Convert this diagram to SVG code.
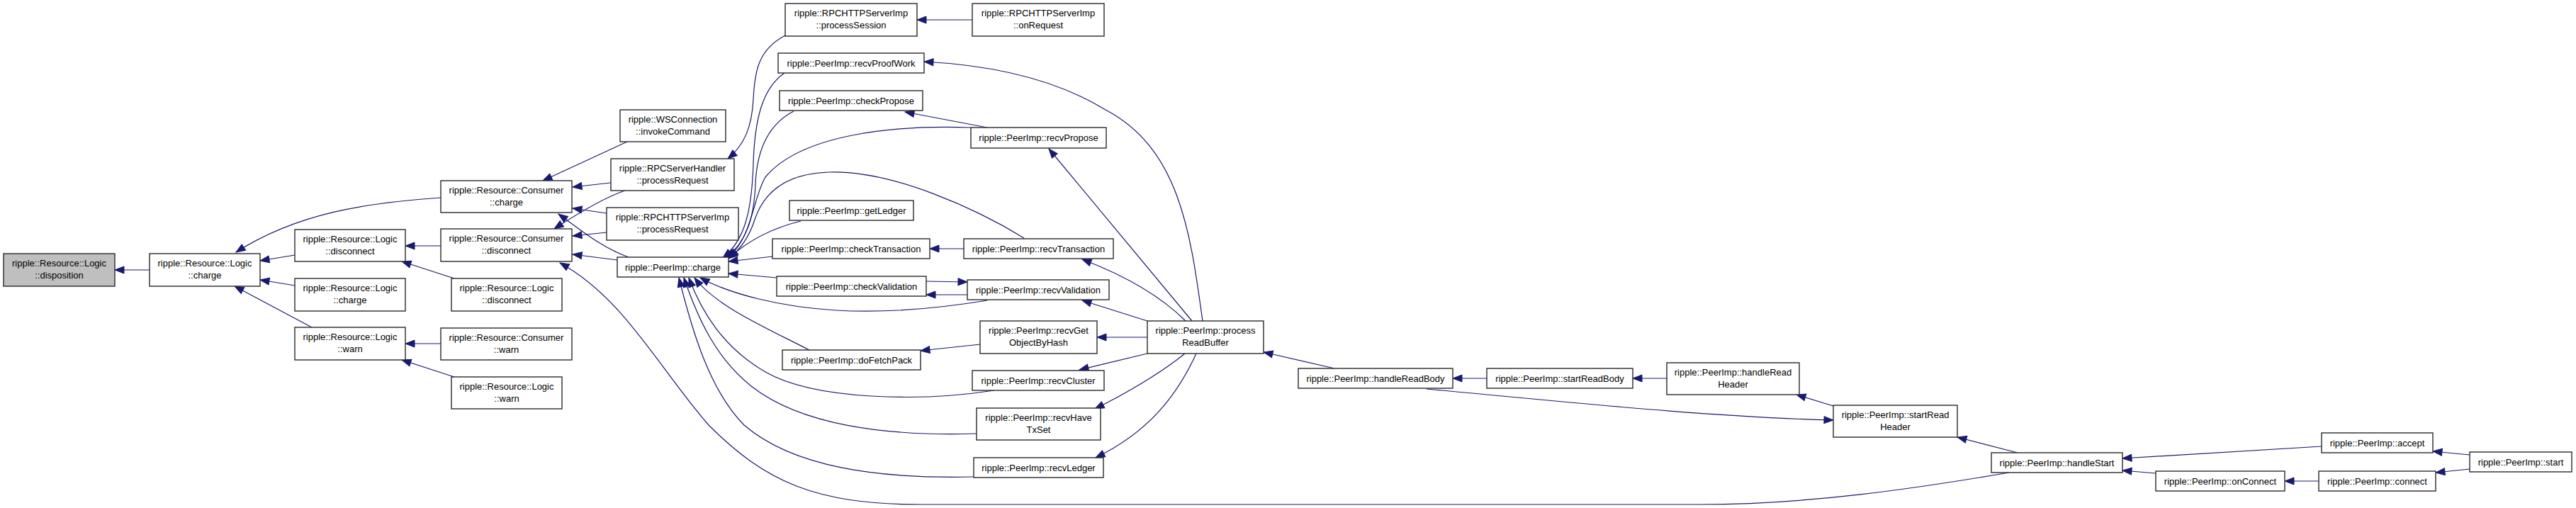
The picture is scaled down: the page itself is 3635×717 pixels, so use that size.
<svg xmlns="http://www.w3.org/2000/svg" width="3635" height="717" viewBox="0 0 3635 717">
<style>
.n rect{fill:#fff;stroke:#2a2a2a;stroke-width:1.4}
.n.sel rect{fill:#bfbfbf}
.n text{font-family:"Liberation Sans",Arial,sans-serif;font-size:13px;fill:#000;text-anchor:middle}
#edges path{fill:none;stroke:#191970;stroke-width:1.2;marker-end:url(#ah)}
</style>
<defs>
<marker id="ah" markerUnits="userSpaceOnUse" markerWidth="14" markerHeight="12" refX="13" refY="5.5" orient="auto" overflow="visible">
<path d="M0,0.5 L13,5.5 L0,10.5 z" fill="#191970" stroke="#191970" stroke-width="1"/>
</marker>
</defs>
<rect width="3635" height="717" fill="#fff"/>
<g id="edges">
<path d="M211,381 L162,381"/>
<path d="M622,279 C520,286 420,300 333,356"/>
<path d="M416,360 L367,368"/>
<path d="M416,403 L367,395"/>
<path d="M440,462 L331,404"/>
<path d="M622,347 L572,347"/>
<path d="M641,393 L567,369"/>
<path d="M622,485 L572,485"/>
<path d="M641,532 L567,508"/>
<path d="M885,200 L766,255"/>
<path d="M862,258 L808,264"/>
<path d="M856,301 L808,294"/>
<path d="M887,363 C850,350 820,325 788,302"/>
<path d="M882,269 C855,278 825,295 782,323"/>
<path d="M856,328 L808,333"/>
<path d="M871,367 L808,359"/>
<path d="M2835,667 C2700,690 2550,712 2400,712 L1300,712 C1150,712 1080,680 1000,600 C930,520 880,420 790,371"/>
<path d="M1108,50 C1070,70 1065,100 1063,140 C1061,180 1050,205 1027,224"/>
<path d="M1372,28 L1294,28"/>
<path d="M1107,103 C1075,125 1065,170 1063,230 C1061,300 1050,340 1020,364"/>
<path d="M1120,157 C1085,175 1068,210 1066,260 C1064,310 1052,343 1024,364"/>
<path d="M1370,180 C1260,176 1130,190 1080,250 C1062,280 1062,335 1027,364"/>
<path d="M1445,336 C1380,296 1260,240 1170,243 C1100,245 1075,280 1065,310 C1057,335 1045,352 1028,365"/>
<path d="M1130,312 C1090,322 1055,340 1029,364"/>
<path d="M1090,362 L1028,369"/>
<path d="M1096,392 L1028,386"/>
<path d="M1393,424 C1320,436 1250,442 1180,438 C1100,433 1030,415 988,392"/>
<path d="M1142,494 C1080,462 1010,432 980,392"/>
<path d="M1403,551 C1300,567 1150,565 1080,525 C1020,490 990,440 972,392"/>
<path d="M1378,612 C1250,616 1130,600 1060,545 C1010,505 985,450 965,392"/>
<path d="M1374,673 C1240,676 1120,660 1050,600 C1000,550 975,460 958,392"/>
<path d="M1697,453 C1680,330 1665,210 1560,155 C1490,112 1400,92 1304,87"/>
<path d="M1682,453 L1480,210"/>
<path d="M1673,453 C1640,420 1590,390 1527,366"/>
<path d="M1619,453 L1527,424"/>
<path d="M1619,476 L1548,476"/>
<path d="M1619,499 L1523,522"/>
<path d="M1672,499 C1640,525 1590,555 1545,577"/>
<path d="M1688,499 C1660,560 1620,610 1546,646"/>
<path d="M1883,520 L1783,497"/>
<path d="M2098,534 L2050,534"/>
<path d="M2352,534 L2304,534"/>
<path d="M2587,573 L2535,557"/>
<path d="M2013,549 C2200,566 2400,588 2587,593"/>
<path d="M2847,639 L2762,617"/>
<path d="M3276,630 L2995,647"/>
<path d="M3042,668 L2995,664"/>
<path d="M3485,642 L3433,637"/>
<path d="M3485,662 L3437,667"/>
<path d="M3272,679 L3224,679"/>
<path d="M1393,180 L1277,158"/>
<path d="M1360,351 L1312,351"/>
<path d="M1307,397 L1365,398"/>
<path d="M1365,416 L1307,416"/>
<path d="M1383,486 L1299,495"/>
</g>
<g id="node-disposition" class="n sel"><rect x="5" y="358" width="157" height="46"/><text x="83.5" y="376">ripple::Resource::Logic</text><text x="83.5" y="393">::disposition</text></g>
<g id="node-logic-charge" class="n"><rect x="211" y="358" width="156" height="46"/><text x="289" y="376">ripple::Resource::Logic</text><text x="289" y="393">::charge</text></g>
<g id="node-logic-disconnect" class="n"><rect x="416" y="324" width="156" height="45"/><text x="494" y="342">ripple::Resource::Logic</text><text x="494" y="359">::disconnect</text></g>
<g id="node-logic-charge2" class="n"><rect x="416" y="393" width="156" height="46"/><text x="494" y="411">ripple::Resource::Logic</text><text x="494" y="428">::charge</text></g>
<g id="node-logic-warn" class="n"><rect x="416" y="462" width="156" height="46"/><text x="494" y="480">ripple::Resource::Logic</text><text x="494" y="497">::warn</text></g>
<g id="node-consumer-charge" class="n"><rect x="622" y="255" width="185" height="45"/><text x="714.5" y="273">ripple::Resource::Consumer</text><text x="714.5" y="290">::charge</text></g>
<g id="node-consumer-disconnect" class="n"><rect x="622" y="323" width="185" height="46"/><text x="714.5" y="341">ripple::Resource::Consumer</text><text x="714.5" y="358">::disconnect</text></g>
<g id="node-logic-disconnect2" class="n"><rect x="637" y="393" width="156" height="46"/><text x="715" y="411">ripple::Resource::Logic</text><text x="715" y="428">::disconnect</text></g>
<g id="node-consumer-warn" class="n"><rect x="622" y="463" width="185" height="45"/><text x="714.5" y="481">ripple::Resource::Consumer</text><text x="714.5" y="498">::warn</text></g>
<g id="node-logic-warn2" class="n"><rect x="637" y="532" width="156" height="45"/><text x="715" y="550">ripple::Resource::Logic</text><text x="715" y="567">::warn</text></g>
<g id="node-wsconnection" class="n"><rect x="875" y="155" width="149" height="45"/><text x="949.5" y="173">ripple::WSConnection</text><text x="949.5" y="190">::invokeCommand</text></g>
<g id="node-rpcserverhandler" class="n"><rect x="862" y="224" width="174" height="45"/><text x="949" y="242">ripple::RPCServerHandler</text><text x="949" y="259">::processRequest</text></g>
<g id="node-rpchttp-processrequest" class="n"><rect x="856" y="293" width="186" height="46"/><text x="949" y="311">ripple::RPCHTTPServerImp</text><text x="949" y="328">::processRequest</text></g>
<g id="node-peer-charge" class="n"><rect x="871" y="363" width="157" height="28"/><text x="949.5" y="381.5">ripple::PeerImp::charge</text></g>
<g id="node-processsession" class="n"><rect x="1108" y="5" width="186" height="46"/><text x="1201" y="23">ripple::RPCHTTPServerImp</text><text x="1201" y="40">::processSession</text></g>
<g id="node-recvproofwork" class="n"><rect x="1098" y="75" width="206" height="28"/><text x="1201" y="93.5">ripple::PeerImp::recvProofWork</text></g>
<g id="node-checkpropose" class="n"><rect x="1100" y="128" width="202" height="28"/><text x="1201" y="146.5">ripple::PeerImp::checkPropose</text></g>
<g id="node-getledger" class="n"><rect x="1114" y="283" width="175" height="28"/><text x="1201.5" y="301.5">ripple::PeerImp::getLedger</text></g>
<g id="node-checktransaction" class="n"><rect x="1090" y="337" width="222" height="28"/><text x="1201" y="355.5">ripple::PeerImp::checkTransaction</text></g>
<g id="node-checkvalidation" class="n"><rect x="1096" y="390" width="211" height="28"/><text x="1201.5" y="408.5">ripple::PeerImp::checkValidation</text></g>
<g id="node-dofetchpack" class="n"><rect x="1104" y="494" width="195" height="28"/><text x="1201.5" y="512.5">ripple::PeerImp::doFetchPack</text></g>
<g id="node-onrequest" class="n"><rect x="1372" y="5" width="186" height="46"/><text x="1465" y="23">ripple::RPCHTTPServerImp</text><text x="1465" y="40">::onRequest</text></g>
<g id="node-recvpropose" class="n"><rect x="1370" y="180" width="191" height="29"/><text x="1465.5" y="198.5">ripple::PeerImp::recvPropose</text></g>
<g id="node-recvtransaction" class="n"><rect x="1360" y="337" width="211" height="28"/><text x="1465.5" y="355.5">ripple::PeerImp::recvTransaction</text></g>
<g id="node-recvvalidation" class="n"><rect x="1365" y="395" width="200" height="28"/><text x="1465" y="413.5">ripple::PeerImp::recvValidation</text></g>
<g id="node-recvgetobjectbyhash" class="n"><rect x="1383" y="453" width="165" height="46"/><text x="1465.5" y="471">ripple::PeerImp::recvGet</text><text x="1465.5" y="488">ObjectByHash</text></g>
<g id="node-recvcluster" class="n"><rect x="1372" y="523" width="186" height="28"/><text x="1465" y="541.5">ripple::PeerImp::recvCluster</text></g>
<g id="node-recvhavetxset" class="n"><rect x="1378" y="576" width="175" height="45"/><text x="1465.5" y="594">ripple::PeerImp::recvHave</text><text x="1465.5" y="611">TxSet</text></g>
<g id="node-recvledger" class="n"><rect x="1374" y="646" width="183" height="28"/><text x="1465.5" y="664.5">ripple::PeerImp::recvLedger</text></g>
<g id="node-processreadbuffer" class="n"><rect x="1619" y="453" width="164" height="46"/><text x="1701" y="471">ripple::PeerImp::process</text><text x="1701" y="488">ReadBuffer</text></g>
<g id="node-handlereadbody" class="n"><rect x="1832" y="520" width="218" height="28"/><text x="1941" y="538.5">ripple::PeerImp::handleReadBody</text></g>
<g id="node-startreadbody" class="n"><rect x="2098" y="520" width="206" height="28"/><text x="2201" y="538.5">ripple::PeerImp::startReadBody</text></g>
<g id="node-handlereadheader" class="n"><rect x="2352" y="512" width="187" height="45"/><text x="2445.5" y="530">ripple::PeerImp::handleRead</text><text x="2445.5" y="547">Header</text></g>
<g id="node-startreadheader" class="n"><rect x="2587" y="572" width="175" height="45"/><text x="2674.5" y="590">ripple::PeerImp::startRead</text><text x="2674.5" y="607">Header</text></g>
<g id="node-handlestart" class="n"><rect x="2810" y="639" width="185" height="28"/><text x="2902.5" y="657.5">ripple::PeerImp::handleStart</text></g>
<g id="node-accept" class="n"><rect x="3276" y="611" width="157" height="28"/><text x="3354.5" y="629.5">ripple::PeerImp::accept</text></g>
<g id="node-onconnect" class="n"><rect x="3042" y="665" width="182" height="28"/><text x="3133" y="683.5">ripple::PeerImp::onConnect</text></g>
<g id="node-connect" class="n"><rect x="3272" y="665" width="165" height="28"/><text x="3354.5" y="683.5">ripple::PeerImp::connect</text></g>
<g id="node-start" class="n"><rect x="3485" y="638" width="144" height="28"/><text x="3557" y="656.5">ripple::PeerImp::start</text></g>
</svg>
